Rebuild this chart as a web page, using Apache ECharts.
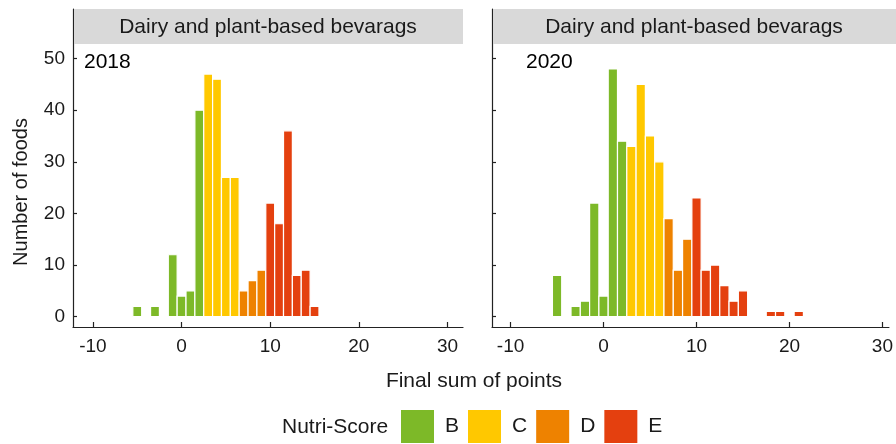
<!DOCTYPE html>
<html>
<head>
<meta charset="utf-8">
<script src="https://cdn.jsdelivr.net/npm/echarts@6/dist/echarts.min.js"></script>
<style>
  html, body { margin: 0; padding: 0; background: #fff; }
  #chart { width: 896px; height: 444px; }
</style>
</head>
<body>
<div id="chart"></div>
<script>
// Histogram of Nutri-Score final points, dairy and plant-based beverages
const panelTitle = 'Dairy and plant-based bevarags';
const years = ['2018', '2020'];
const grades = ['B', 'C', 'D', 'E'];
const gradeColors = ['#7DB928', '#FFC800', '#EE8200', '#E4400F'];

const xTicks = [-10, 0, 10, 20, 30];
const yTicks = [0, 10, 20, 30, 40, 50];

// 2018: final score bins and number of foods per grade
const score2018B = [-5, -3, -1, 0, 1, 2];
const count2018B = [2, 2, 12, 4, 5, 40];
const score2018C = [3, 4, 5, 6];
const count2018C = [47, 46, 27, 27];
const score2018D = [7, 8, 9];
const count2018D = [5, 7, 9];
const score2018E = [10, 11, 12, 13, 14, 15];
const count2018E = [22, 18, 36, 8, 9, 2];

// 2020
const score2020B = [-5, -3, -2, -1, 0, 1, 2];
const count2020B = [8, 2, 3, 22, 4, 48, 34];
const score2020C = [3, 4, 5, 6];
const count2020C = [33, 45, 35, 30];
const score2020D = [7, 8, 9];
const count2020D = [19, 9, 15];
const score2020E = [10, 11, 12, 13, 14, 15, 18, 19, 21];
const count2020E = [23, 9, 10, 6, 3, 5, 1, 1, 1];

const panels = [
  [[score2018B, count2018B], [score2018C, count2018C], [score2018D, count2018D], [score2018E, count2018E]],
  [[score2020B, count2020B], [score2020C, count2020C], [score2020D, count2020D], [score2020E, count2020E]]
];

const FONT = '"Liberation Sans", Arial, Helvetica, sans-serif';
const INK = '#1a1a1a';

// each bin spans one point on the score axis
function renderBin(params, api) {
  const x = api.value(0);
  const y = api.value(1);
  const topLeft = api.coord([x - 0.5, y]);
  const bottomRight = api.coord([x + 0.5, 0]);
  return {
    type: 'rect',
    shape: {
      x: topLeft[0],
      y: topLeft[1],
      width: bottomRight[0] - topLeft[0],
      height: bottomRight[1] - topLeft[1]
    },
    style: { fill: api.visual('color'), stroke: '#ffffff', lineWidth: 1.2 }
  };
}

const grids = [
  { left: 73, top: 9, width: 390, height: 318 },
  { left: 492, top: 9, width: 404, height: 318 }
];
const xRanges = [[-12.25, 31.75], [-12, 30.7]];

const xAxes = grids.map((g, i) => ({
  type: 'value',
  gridIndex: i,
  min: xRanges[i][0],
  max: xRanges[i][1],
  axisLine: { show: true, onZero: false, lineStyle: { color: '#222', width: 1.2 } },
  axisTick: { show: true, inside: true, length: 5, customValues: xTicks, lineStyle: { color: '#222', width: 1.2 } },
  axisLabel: { show: true, customValues: xTicks, margin: 10, fontSize: 19, fontFamily: FONT, color: INK },
  splitLine: { show: false }
}));

const yAxes = grids.map((g, i) => ({
  type: 'value',
  gridIndex: i,
  min: -2,
  max: 59.6,
  axisLine: { show: true, onZero: false, lineStyle: { color: '#222', width: 1.2 } },
  axisTick: { show: true, inside: true, length: 4, customValues: yTicks, lineStyle: { color: '#222', width: 1.2 } },
  axisLabel: { show: i === 0, customValues: yTicks, margin: 8, fontSize: 19, fontFamily: FONT, color: INK },
  splitLine: { show: false }
}));

const series = [];
panels.forEach((panel, p) => {
  panel.forEach((pair, g) => {
    const [scores, counts] = pair;
    series.push({
      type: 'custom',
      name: grades[g],
      xAxisIndex: p,
      yAxisIndex: p,
      itemStyle: { color: gradeColors[g] },
      encode: { x: 0, y: 1 },
      renderItem: renderBin,
      data: scores.map((s, k) => [s, counts[k]])
    });
  });
});

// facet strips, year tags and axis titles
const graphic = [];
grids.forEach((g, i) => {
  graphic.push({
    type: 'rect',
    shape: { x: g.left + 1, y: g.top, width: g.width - 1, height: 35 },
    style: { fill: '#D9D9D9' },
    z: 10
  });
  graphic.push({
    type: 'text',
    x: g.left + g.width / 2,
    y: g.top + 18,
    style: { text: panelTitle, fontSize: 21, fontFamily: FONT, fill: INK, align: 'center', verticalAlign: 'middle' },
    z: 11
  });
});
graphic.push({
  type: 'text', x: 84, y: 62,
  style: { text: years[0], fontSize: 21, fontFamily: FONT, fill: '#000', align: 'left', verticalAlign: 'middle' }
});
graphic.push({
  type: 'text', x: 526, y: 62,
  style: { text: years[1], fontSize: 21, fontFamily: FONT, fill: '#000', align: 'left', verticalAlign: 'middle' }
});
graphic.push({
  type: 'text', x: 21, y: 192, rotation: Math.PI / 2,
  style: { text: 'Number of foods', fontSize: 20, fontFamily: FONT, fill: INK, align: 'center', verticalAlign: 'middle' }
});
graphic.push({
  type: 'text', x: 474, y: 381,
  style: { text: 'Final sum of points', fontSize: 21, fontFamily: FONT, fill: INK, align: 'center', verticalAlign: 'middle' }
});
graphic.push({
  type: 'text', x: 282, y: 427,
  style: { text: 'Nutri-Score', fontSize: 21, fontFamily: FONT, fill: INK, align: 'left', verticalAlign: 'middle' }
});

const chart = echarts.init(document.getElementById('chart'), null, { renderer: 'canvas' });
chart.setOption({
  animation: false,
  backgroundColor: '#ffffff',
  grid: grids,
  xAxis: xAxes,
  yAxis: yAxes,
  legend: {
    data: grades,
    left: 396,
    top: 405,
    icon: 'rect',
    itemWidth: 33,
    itemHeight: 33,
    itemGap: 9,
    selectedMode: false,
    textStyle: { fontSize: 21, fontFamily: FONT, color: INK, padding: [0, 0, 0, 6] }
  },
  graphic: graphic,
  series: series
});
</script>
</body>
</html>
